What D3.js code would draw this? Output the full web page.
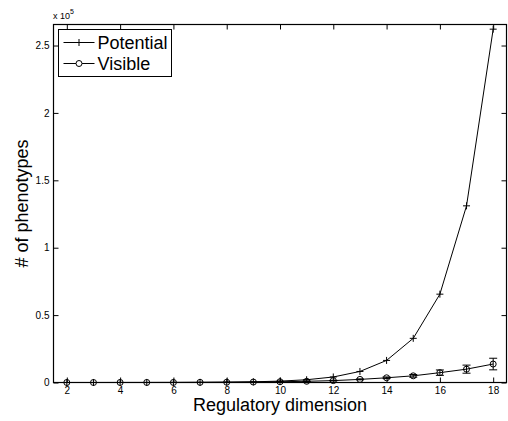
<!DOCTYPE html>
<html>
<head>
<meta charset="utf-8">
<script src="https://cdn.jsdelivr.net/npm/d3@7"></script>
<style>
html,body{margin:0;padding:0;background:#fff;}
svg text{font-family:"Liberation Sans",Arial,Helvetica,sans-serif;fill:#000;}
</style>
</head>
<body>
<svg id="chart" width="508" height="421"></svg>
<script>
// ---- data ----
const dims = [2,3,4,5,6,7,8,9,10,11,12,13,14,15,16,17,18];
const potential = [4,8,16,32,64,128,256,512,1024,2048,4096,8192,16384,32768,65536,131072,262144];
const visible = [3,7,14,28,55,105,190,340,560,900,1400,2300,3500,4950,7300,9900,13700];
const visibleErr = [0,0,0,0,0,0,0,0,50,100,200,350,600,1000,2000,3000,4300];
const xTicks = [2,4,6,8,10,12,14,16,18];
const yTicks = [0,50000,100000,150000,200000,250000];
const yTickLabels = ["0","0.5","1","1.5","2","2.5"];
const seriesNames = ["Potential","Visible"];

// ---- layout ----
const svg = d3.select("#chart");
const L = 53.5, R = 506.5, T = 24.5, B = 382.5;
const x = d3.scaleLinear().domain([1.5,18.5]).range([L,R]);
const y = d3.scaleLinear().domain([0,265600]).range([B,T]);

// axes with inward ticks
const tickLen = 5;
svg.append("g").attr("transform",`translate(0,${B})`)
  .call(d3.axisBottom(x).tickValues(xTicks).tickSize(-tickLen).tickPadding(4).tickFormat(d3.format("d")))
  .call(g=>{g.select(".domain").remove();g.selectAll("text").attr("font-size",10).style("font-family","Liberation Sans, Arial");g.selectAll("line").attr("stroke","#000");});
svg.append("g").attr("transform",`translate(0,${T})`)
  .call(d3.axisTop(x).tickValues(xTicks).tickSize(-tickLen).tickFormat(""))
  .call(g=>{g.select(".domain").remove();g.selectAll("line").attr("stroke","#000");});
svg.append("g").attr("transform",`translate(${L},0)`)
  .call(d3.axisLeft(y).tickValues(yTicks).tickSize(-tickLen).tickPadding(4).tickFormat((d,i)=>yTickLabels[i]))
  .call(g=>{g.select(".domain").remove();g.selectAll("text").attr("font-size",10).style("font-family","Liberation Sans, Arial");g.selectAll("line").attr("stroke","#000");});
svg.append("g").attr("transform",`translate(${R},0)`)
  .call(d3.axisRight(y).tickValues(yTicks).tickSize(-tickLen).tickFormat(""))
  .call(g=>{g.select(".domain").remove();g.selectAll("line").attr("stroke","#000");});

// frame
svg.append("rect").attr("x",L).attr("y",T).attr("width",R-L).attr("height",B-T)
  .attr("fill","none").attr("stroke","#000").attr("stroke-width",1.2);

// exponent label
const ex = svg.append("text").attr("x",L-0.5).attr("y",18.5).attr("font-size",9);
ex.append("tspan").text("x 10");
ex.append("tspan").attr("font-size",7).attr("dy",-4.5).text("5");

// data lines
const line = d3.line().x((d,i)=>x(dims[i])).y(d=>y(d));
svg.append("path").datum(potential).attr("d",line).attr("fill","none").attr("stroke","#000").attr("stroke-width",1);
svg.append("path").datum(visible).attr("d",line).attr("fill","none").attr("stroke","#000").attr("stroke-width",1);

// plus markers
const plusPath = s => `M${-s},0H${s}M0,${-s}V${s}`;
svg.append("g").selectAll("path").data(potential).join("path")
  .attr("transform",(d,i)=>`translate(${x(dims[i])},${y(d)})`)
  .attr("d",plusPath(3.5)).attr("stroke","#000").attr("stroke-width",1).attr("fill","none");

// error bars
const eb = svg.append("g").attr("stroke","#000").attr("stroke-width",1);
visible.forEach((v,i)=>{
  const e = visibleErr[i];
  if(e<=0) return;
  const cx = x(dims[i]);
  eb.append("line").attr("x1",cx).attr("x2",cx).attr("y1",y(v-e)).attr("y2",y(v+e));
  eb.append("line").attr("x1",cx-4).attr("x2",cx+4).attr("y1",y(v-e)).attr("y2",y(v-e));
  eb.append("line").attr("x1",cx-4).attr("x2",cx+4).attr("y1",y(v+e)).attr("y2",y(v+e));
});

// circle markers
svg.append("g").selectAll("circle").data(visible).join("circle")
  .attr("cx",(d,i)=>x(dims[i])).attr("cy",d=>y(d)).attr("r",3)
  .attr("fill","none").attr("stroke","#000").attr("stroke-width",1);

// legend
const lg = svg.append("g");
lg.append("rect").attr("x",58.5).attr("y",29.5).attr("width",113).attr("height",47)
  .attr("fill","#fff").attr("stroke","#000").attr("stroke-width",1);
const ly = [42.5,63.5];
seriesNames.forEach((name,i)=>{
  lg.append("line").attr("x1",63.5).attr("x2",94.5).attr("y1",ly[i]).attr("y2",ly[i]).attr("stroke","#000");
  if(i===0){
    lg.append("path").attr("transform",`translate(79,${ly[i]})`).attr("d",plusPath(3.5)).attr("stroke","#000");
  } else {
    lg.append("circle").attr("cx",79).attr("cy",ly[i]).attr("r",3).attr("fill","#fff").attr("stroke","#000");
  }
  lg.append("text").attr("x",97.5).attr("y",ly[i]+6.5).attr("font-size",18).text(name);
});

// axis titles
svg.append("text").attr("x",(L+R)/2).attr("y",411).attr("text-anchor","middle").attr("font-size",18).text("Regulatory dimension");
svg.append("text").attr("transform",`translate(28,${(T+B)/2}) rotate(-90)`).attr("text-anchor","middle").attr("font-size",18).text("# of phenotypes");
</script>
</body>
</html>
